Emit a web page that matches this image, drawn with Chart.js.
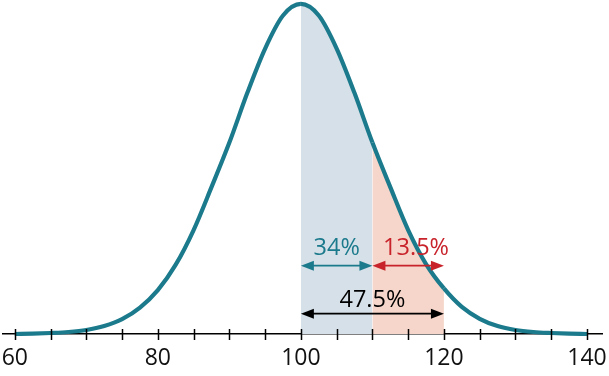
<!DOCTYPE html>
<html>
<head>
<meta charset="utf-8">
<script src="https://cdn.jsdelivr.net/npm/chart.js@4/dist/chart.umd.min.js"></script>
<style>
  html, body { margin: 0; padding: 0; background: #fff; }
  #wrap { width: 609px; height: 376px; }
</style>
</head>
<body>
<div id="wrap"><canvas id="chart"></canvas></div>
<script>
// curve: x value and relative height (peak = 1)
const xValues = [60, 62.5, 65, 67.5, 70, 72.5, 75, 77.5, 80, 82.5, 85, 87.5, 90, 92.5, 95, 97.5,
  100, 102.5, 105, 107.5, 110, 112.5, 115, 117.5, 120, 122.5, 125, 127.5, 130, 132.5, 135, 137.5, 140];
const density = [0, 0.001, 0.003, 0.006, 0.012, 0.024, 0.045, 0.08, 0.133, 0.21, 0.315, 0.445, 0.58, 0.73, 0.865, 0.965,
  1, 0.965, 0.865, 0.73, 0.58, 0.445, 0.315, 0.212, 0.138, 0.082, 0.046, 0.024, 0.012, 0.006, 0.003, 0.001, 0];

const tickValues = [60, 65, 70, 75, 80, 85, 90, 95, 100, 105, 110, 115, 120, 125, 130, 135, 140];
const labelEvery = 20;

// shaded bands and their percentages
const bandStarts = [100, 110, 100];
const bandEnds = [110, 120, 120];
const bandLabels = ["34%", "13.5%", "47.5%"];

const teal = "#1b7a8c";
const red = "#c8232b";
const blueFill = "#d6e0e8";
const redFill = "#f6d6ca";

const points = xValues.map((x, i) => ({ x: x, y: density[i] }));

function bandColor(ctx) {
  const a = ctx.p0.parsed.x;
  const b = ctx.p1.parsed.x;
  if (a >= bandStarts[0] && b <= bandEnds[0]) return blueFill;
  if (a >= bandStarts[1] && b <= bandEnds[1]) return redFill;
  return "rgba(0,0,0,0)";
}

// where each arrow / label sits (y in data units)
const arrowRows = [
  { band: 0, color: teal, y: 0.207, textX: 105, textY: 0.239 },
  { band: 1, color: red, y: 0.207, textX: 116.1, textY: 0.239 },
  { band: 2, color: "#000", y: 0.0615, textX: 110, textY: 0.083 },
];

function arrowHead(ctx, x, y, dir) {
  ctx.beginPath();
  ctx.moveTo(x, y);
  ctx.lineTo(x - dir * 13, y - 5);
  ctx.lineTo(x - dir * 13, y + 5);
  ctx.closePath();
  ctx.fill();
}

const annotations = {
  id: "annotations",
  afterDatasetsDraw(chart) {
    const ctx = chart.ctx;
    const xs = chart.scales.x;
    const ys = chart.scales.y;
    ctx.save();

    // tick marks crossing the axis
    const axisY = chart.chartArea.bottom;
    ctx.strokeStyle = "#000";
    ctx.lineWidth = 1.5;
    tickValues.forEach((v) => {
      const px = Math.round(xs.getPixelForValue(v)) + 0.5;
      ctx.beginPath();
      ctx.moveTo(px, axisY - 5);
      ctx.lineTo(px, axisY + 6);
      ctx.stroke();
    });

    ctx.font = '23.5px "Open Sans"';
    ctx.textAlign = "center";
    ctx.textBaseline = "alphabetic";
    arrowRows.forEach((row) => {
      const x1 = xs.getPixelForValue(bandStarts[row.band]);
      const x2 = xs.getPixelForValue(bandEnds[row.band]);
      const y = ys.getPixelForValue(row.y);
      ctx.strokeStyle = row.color;
      ctx.fillStyle = row.color;
      ctx.lineWidth = 1.7;
      ctx.beginPath();
      ctx.moveTo(x1 + 6, y);
      ctx.lineTo(x2 - 6, y);
      ctx.stroke();
      arrowHead(ctx, x1, y, -1);
      arrowHead(ctx, x2, y, 1);
      ctx.fillText(bandLabels[row.band], xs.getPixelForValue(row.textX), ys.getPixelForValue(row.textY));
    });
    ctx.restore();
  },
};

new Chart(document.getElementById("chart"), {
  type: "line",
  data: {
    datasets: [
      {
        data: points,
        borderColor: teal,
        borderWidth: 4.2,
        pointRadius: 0,
        cubicInterpolationMode: "monotone",
        fill: "origin",
        backgroundColor: "rgba(0,0,0,0)",
        segment: { backgroundColor: bandColor },
        clip: 6,
      },
    ],
  },
  options: {
    responsive: true,
    maintainAspectRatio: false,
    animation: false,
    events: [],
    layout: { padding: { left: 3, right: 7, top: 0, bottom: 0 } },
    plugins: { legend: { display: false }, tooltip: { enabled: false } },
    scales: {
      x: {
        type: "linear",
        min: 58.35,
        max: 142.1,
        grid: { display: false },
        border: { display: true, color: "#000", width: 1.5 },
        afterBuildTicks(scale) {
          scale.ticks = tickValues.map((v) => ({ value: v }));
        },
        afterFit(scale) {
          scale.height = 42;
          scale.paddingLeft = 0;
          scale.paddingRight = 0;
        },
        ticks: {
          color: "#111",
          padding: 3,
          maxRotation: 0,
          autoSkip: false,
          font: { family: "Open Sans", size: 23 },
          callback: (v) => (v % labelEvery === 0 ? String(v) : ""),
        },
      },
      y: {
        display: false,
        min: 0,
        max: 1.012,
      },
    },
  },
  plugins: [annotations],
});
</script>
</body>
</html>
